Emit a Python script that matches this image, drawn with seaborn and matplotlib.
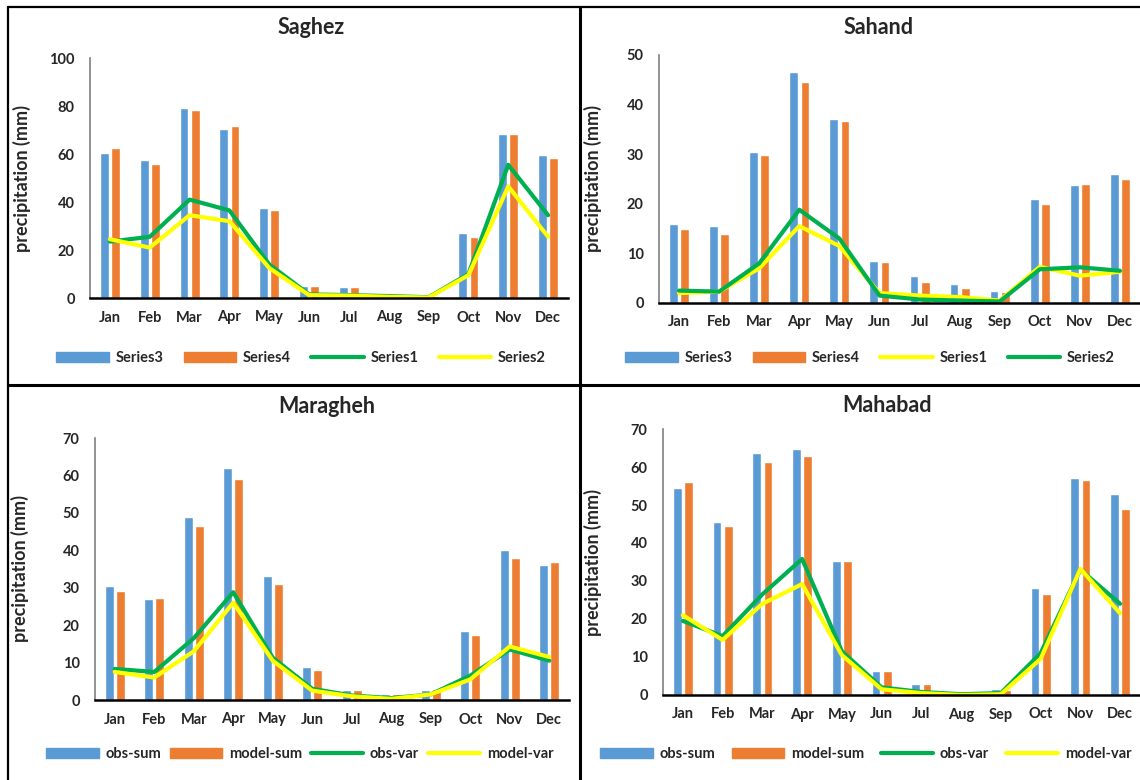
import numpy as np
import pandas as pd
import matplotlib
matplotlib.use("Agg")
import matplotlib.pyplot as plt
from matplotlib.lines import Line2D
from matplotlib.patches import Patch
import seaborn as sns

# ── data ──────────────────────────────────────────────────────────────────────
MONTHS = ["Jan", "Feb", "Mar", "Apr", "May", "Jun",
          "Jul", "Aug", "Sep", "Oct", "Nov", "Dec"]

SAGHEZ_S3 = [60.5, 57.5, 79.0, 70.5, 37.5, 5.0, 4.5, 1.5, 1.5, 27.0, 68.5, 59.5]
SAGHEZ_S4 = [62.5, 56.0, 78.5, 71.5, 36.5, 5.0, 4.5, 0.8, 1.0, 25.5, 68.5, 58.5]
SAGHEZ_S1 = [23.5, 25.5, 41.0, 36.5, 14.0, 1.5, 1.2, 0.8, 0.3, 10.0, 55.5, 34.5]
SAGHEZ_S2 = [24.5, 21.0, 34.5, 32.0, 12.5, 1.2, 1.0, 0.5, 0.2, 9.5, 46.5, 25.5]

SAHAND_S3 = [16.0, 15.5, 30.5, 46.5, 37.0, 8.5, 5.5, 3.8, 2.5, 21.0, 23.8, 26.0]
SAHAND_S4 = [15.0, 14.0, 29.8, 44.5, 36.7, 8.3, 4.3, 3.0, 2.2, 20.0, 24.0, 25.0]
SAHAND_S1 = [2.0, 2.3, 7.0, 15.5, 11.5, 2.0, 1.5, 1.2, 0.5, 7.3, 5.5, 6.3]
SAHAND_S2 = [2.5, 2.3, 8.0, 18.8, 13.0, 1.5, 0.7, 0.5, 0.3, 6.8, 7.2, 6.5]

MARAGHEH_OBS_SUM = [30.5, 27.0, 48.8, 62.0, 33.2, 8.7, 2.7, 1.7, 2.7, 18.5, 40.2, 36.2]
MARAGHEH_MOD_SUM = [29.0, 27.2, 46.6, 59.0, 31.1, 8.0, 2.8, 1.5, 3.0, 17.3, 37.9, 36.8]
MARAGHEH_OBS_VAR = [8.3, 7.5, 16.5, 28.8, 11.3, 3.0, 1.2, 0.5, 1.5, 6.5, 13.5, 10.5]
MARAGHEH_MOD_VAR = [7.5, 6.0, 13.0, 26.0, 10.5, 2.5, 1.0, 0.3, 1.5, 5.5, 14.3, 11.5]

MAHABAD_OBS_SUM = [54.5, 45.5, 63.8, 64.8, 35.2, 6.2, 3.0, 0.8, 1.5, 28.2, 57.0, 53.0]
MAHABAD_MOD_SUM = [56.0, 44.6, 61.2, 63.0, 35.2, 6.2, 3.0, 0.7, 1.2, 26.6, 56.5, 49.0]
MAHABAD_OBS_VAR = [19.5, 15.5, 26.5, 35.8, 11.5, 2.0, 0.8, 0.2, 0.5, 11.0, 33.0, 24.0]
MAHABAD_MOD_VAR = [21.0, 14.5, 24.0, 29.2, 10.5, 1.5, 0.5, 0.0, 0.2, 9.5, 33.2, 21.5]

# ── style ─────────────────────────────────────────────────────────────────────
sns.set_theme(style="white")
plt.rcParams["font.family"] = ["Lato", "DejaVu Sans"]
plt.rcParams["font.weight"] = "bold"

BLUE, ORANGE, GREEN, YELLOW = "#5B9BD5", "#ED7D31", "#00B050", "#FFFF00"
W, H = 1140, 780

# each panel: title, bars (label, values, colour), lines in draw order,
# y max / step, axes box in pixels (l, r, top, bottom), text placement
PANELS = [
    dict(title="Saghez",
         bars=[("Series3", SAGHEZ_S3, BLUE), ("Series4", SAGHEZ_S4, ORANGE)],
         lines=[("Series1", SAGHEZ_S1, GREEN), ("Series2", SAGHEZ_S2, YELLOW)],
         ymax=100, step=20, box=(90, 568, 58, 298), ylab_x=31,
         title_xy=(311, 28), leg_xy=(301, 358), colsp=1.4),
    dict(title="Sahand",
         bars=[("Series3", SAHAND_S3, BLUE), ("Series4", SAHAND_S4, ORANGE)],
         lines=[("Series1", SAHAND_S1, YELLOW), ("Series2", SAHAND_S2, GREEN)],
         ymax=50, step=10, box=(659, 1140, 55, 303), ylab_x=602,
         title_xy=(879, 27), leg_xy=(870, 358), colsp=1.4),
    dict(title="Maragheh",
         bars=[("obs-sum", MARAGHEH_OBS_SUM, BLUE), ("model-sum", MARAGHEH_MOD_SUM, ORANGE)],
         lines=[("obs-var", MARAGHEH_OBS_VAR, GREEN), ("model-var", MARAGHEH_MOD_VAR, YELLOW)],
         ymax=70, step=10, box=(95, 569, 438, 700), ylab_x=29,
         title_xy=(327, 406), leg_xy=(300, 754), colsp=0.6),
    dict(title="Mahabad",
         bars=[("obs-sum", MAHABAD_OBS_SUM, BLUE), ("model-sum", MAHABAD_MOD_SUM, ORANGE)],
         lines=[("obs-var", MAHABAD_OBS_VAR, GREEN), ("model-var", MAHABAD_MOD_VAR, YELLOW)],
         ymax=70, step=10, box=(663, 1140, 429, 695), ylab_x=602,
         title_xy=(887, 405), leg_xy=(866, 754), colsp=1.15),
]

fig = plt.figure(figsize=(W / 100, H / 100), dpi=100)


def px(x, y):
    return x / W, 1 - y / H


for p in PANELS:
    l, r, t, b = p["box"]
    ax = fig.add_axes([l / W, 1 - b / H, (r - l) / W, (b - t) / H])

    df = pd.DataFrame({
        "month": MONTHS * len(p["bars"]),
        "series": [lab for lab, _, _ in p["bars"] for _ in MONTHS],
        "value": [v for _, vals, _ in p["bars"] for v in vals],
    })
    sns.barplot(data=df, x="month", y="value", hue="series",
                order=MONTHS, hue_order=[lab for lab, _, _ in p["bars"]],
                palette=[c for _, _, c in p["bars"]],
                width=0.56, gap=0.22, errorbar=None, legend=False,
                saturation=1, ax=ax)

    xpos = np.arange(len(MONTHS))
    for lab, vals, col in p["lines"]:
        sns.lineplot(x=xpos, y=vals, color=col, linewidth=3, sort=False,
                     clip_on=False, solid_joinstyle="round", ax=ax)

    ax.set_xlim(-0.5, len(MONTHS) - 0.5)
    ax.set_ylim(0, p["ymax"])
    ax.set_yticks(np.arange(0, p["ymax"] + 1, p["step"]))
    ax.set_xticks(xpos)
    ax.set_xticklabels(MONTHS)
    ax.tick_params(axis="both", length=0, labelsize=10.5)
    ax.tick_params(axis="x", pad=9)
    ax.tick_params(axis="y", pad=11)
    for lab in ax.get_xticklabels() + ax.get_yticklabels():
        lab.set_fontweight("bold")
    ax.set_xlabel("")
    ax.set_ylabel("precipitation (mm)", fontsize=13, fontweight="bold")
    ax.yaxis.set_label_coords((p["ylab_x"] - l) / (r - l), 0.5)
    sns.despine(ax=ax)
    ax.spines["left"].set_color("#7F7F7F")
    ax.spines["left"].set_linewidth(1.2)
    ax.spines["bottom"].set_color("black")
    ax.spines["bottom"].set_linewidth(1.8)
    ax.set_facecolor("none")

    fig.text(*px(*p["title_xy"]), p["title"], ha="center", va="center",
             fontsize=15.5, fontweight="bold")

    handles = [Patch(color=c, label=lab) for lab, _, c in p["bars"]]
    handles += [Line2D([], [], color=c, lw=3, label=lab) for lab, _, c in p["lines"]]
    fig.legend(handles=handles, loc="center", bbox_to_anchor=px(*p["leg_xy"]),
               ncol=4, frameon=False, handlelength=3.6,
               handletextpad=0.45, columnspacing=p["colsp"],
               prop={"weight": "bold", "size": 10.5})

# panel frame lines
for (x0, y0), (x1, y1), lw in [((8, 7), (8, 780), 1.6), ((8, 7), (1140, 7), 1.6),
                               ((580, 7), (580, 780), 2.2), ((8, 385), (1140, 385), 2.2)]:
    a, b_ = px(x0, y0)
    c, d = px(x1, y1)
    fig.add_artist(Line2D([a, c], [b_, d], color="black", lw=lw))

fig.savefig("out.png", dpi=100)
